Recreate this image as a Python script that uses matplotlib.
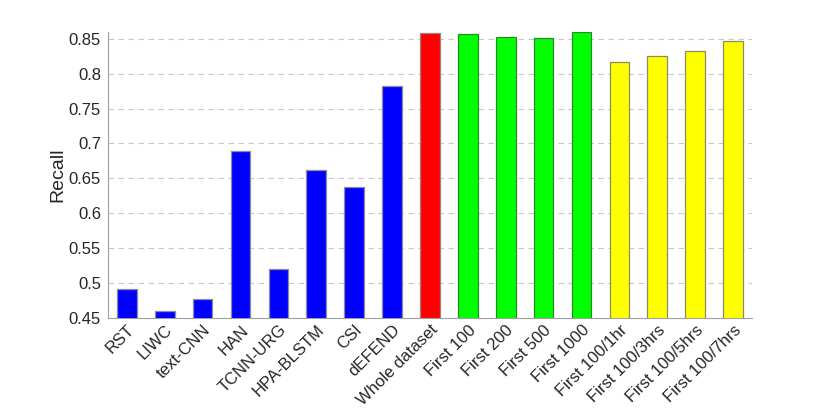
import matplotlib.pyplot as plt
import numpy as np

plt.rcParams['font.family'] = ['Liberation Sans', 'DejaVu Sans']

# Recall per method / setting
methods = ['RST', 'LIWC', 'text-CNN', 'HAN', 'TCNN-URG', 'HPA-BLSTM', 'CSI', 'dEFEND',
           'Whole dataset', 'First 100', 'First 200', 'First 500', 'First 1000',
           'First 100/1hr', 'First 100/3hrs', 'First 100/5hrs', 'First 100/7hrs']
recall = [0.492, 0.460, 0.477, 0.689, 0.521, 0.662, 0.638, 0.782,
          0.858, 0.856, 0.853, 0.851, 0.859,
          0.816, 0.825, 0.833, 0.846]
groups = ['base'] * 8 + ['whole'] + ['first'] * 4 + ['time'] * 4

group_colors = {'base': '#0000ff', 'whole': '#ff0000', 'first': '#00ff00', 'time': '#ffff00'}
group_edges = {'base': '#8c8c9c', 'whole': '#a08080', 'first': '#2a8a2a', 'time': '#8c8c60'}

fig = plt.figure(figsize=(8.3, 4.17), dpi=100)
ax = fig.add_axes([0.130, 0.237, 0.776, 0.687])

x = np.arange(1, len(methods) + 1)
ax.bar(x, recall, width=0.52,
       color=[group_colors[g] for g in groups],
       edgecolor=[group_edges[g] for g in groups], linewidth=0.9, zorder=3)

ax.set_xlim(0.5, len(methods) + 0.5)
ax.set_ylim(0.45, 0.86)
ax.set_yticks(np.arange(0.45, 0.851, 0.05))
ax.set_yticklabels(['0.45', '0.5', '0.55', '0.6', '0.65', '0.7', '0.75', '0.8', '0.85'])
ax.set_xticks(x)
ax.set_xticklabels(methods, rotation=45, ha='right', va='top', rotation_mode='anchor')
ax.tick_params(axis='both', length=0, labelsize=12, colors='#262626')
ax.tick_params(axis='x', pad=3)
ax.tick_params(axis='y', pad=5)
ax.set_ylabel('Recall', fontsize=14, color='#262626', labelpad=2)

ax.grid(axis='y', linestyle=(0, (5, 4)), color='#c8c8c8', linewidth=0.8, zorder=0)
ax.spines['top'].set_visible(False)
ax.spines['right'].set_visible(False)
ax.spines['left'].set_color('#a0a0a0')
ax.spines['bottom'].set_color('#a0a0a0')

plt.savefig('out.png', dpi=100)
